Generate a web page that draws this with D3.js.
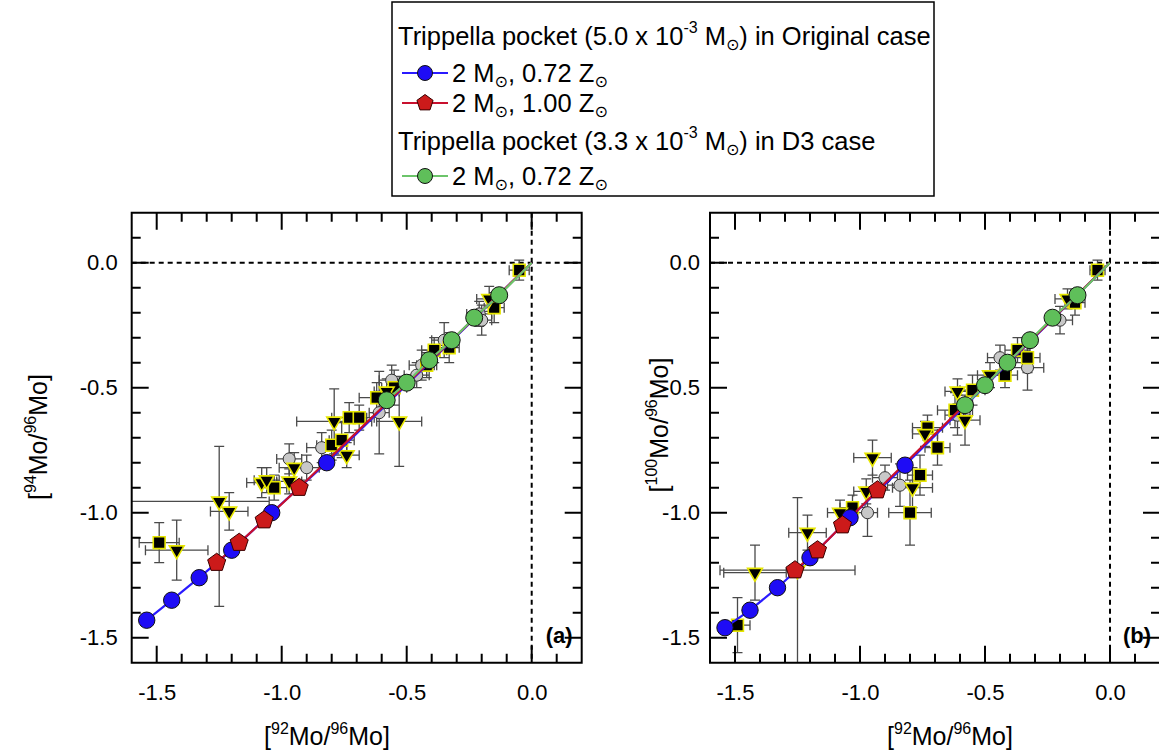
<!DOCTYPE html>
<html>
<head>
<meta charset="utf-8">
<script src="https://cdn.jsdelivr.net/npm/d3@7"></script>
<style>
  body { margin: 0; background: #fff; }
</style>
</head>
<body>
<script>

let width = 1159;
let height = 756;

// axis values
let domain = [-1.6, 0.2];
let majorTicks = [-1.5, -1.0, -0.5, 0.0];
let minorTicks = d3.range(-16, 3).map(d => d / 10);

// model tracks start from the solar composition
let solar = [0, 0];

// panel (a): [92Mo/96Mo] vs [94Mo/96Mo]
let blueA = [[-1.54, -1.43], [-1.44, -1.35], [-1.33, -1.26], [-1.20, -1.15], [-1.04, -1.00], [-0.82, -0.80]];
let redA = [[-1.26, -1.20], [-1.17, -1.12], [-1.07, -1.03], [-0.93, -0.90]];
let greenA = [[-0.58, -0.55], [-0.50, -0.48], [-0.41, -0.39], [-0.32, -0.31], [-0.23, -0.22], [-0.13, -0.13]];

// grains: [type, x, y, ex, ey, exHi, eyHi]  (hi errors only when asymmetric)
let grainsA = [
    ["c", -0.97, -0.785, 0.05, 0.06],
    ["c", -0.90, -0.82, 0.05, 0.05],
    ["c", -0.84, -0.74, 0.06, 0.06],
    ["c", -0.61, -0.60, 0.04, 0.165],
    ["c", -0.56, -0.47, 0.05, 0.06],
    ["c", -0.46, -0.45, 0.05, 0.05],
    ["c", -0.44, -0.41, 0.05, 0.06],
    ["c", -0.35, -0.31, 0.05, 0.07],
    ["c", -0.21, -0.205, 0.05, 0.05],
    ["c", -0.20, -0.23, 0.04, 0.06],
    ["s", -1.49, -1.12, 0.08, 0.08],
    ["s", -1.03, -0.90, 0.05, 0.05],
    ["s", -0.80, -0.73, 0.06, 0.06],
    ["s", -0.76, -0.71, 0.05, 0.07],
    ["s", -0.73, -0.62, 0.07, 0.06],
    ["s", -0.69, -0.62, 0.06, 0.05],
    ["s", -0.62, -0.54, 0.07, 0.06],
    ["s", -0.55, -0.50, 0.05, 0.07],
    ["s", -0.42, -0.41, 0.04, 0.05],
    ["s", -0.39, -0.35, 0.05, 0.05],
    ["s", -0.33, -0.34, 0.04, 0.06],
    ["s", -0.15, -0.18, 0.04, 0.06],
    ["s", -0.05, -0.03, 0.04, 0.04],
    ["t", -1.42, -1.15, 0.125, 0.12],
    ["t", -1.25, -0.955, 0.5, 0.42, 0.2, 0.22],
    ["t", -1.21, -0.995, 0.075, 0.075],
    ["t", -1.08, -0.88, 0.06, 0.06],
    ["t", -1.06, -0.87, 0.05, 0.05],
    ["t", -0.97, -0.875, 0.05, 0.05],
    ["t", -0.95, -0.82, 0.06, 0.06],
    ["t", -0.79, -0.635, 0.15, 0.13],
    ["t", -0.74, -0.77, 0.05, 0.05],
    ["t", -0.58, -0.515, 0.05, 0.05],
    ["t", -0.53, -0.635, 0.09, 0.18],
    ["t", -0.17, -0.145, 0.05, 0.05]
];

// panel (b): [92Mo/96Mo] vs [100Mo/96Mo]
let blueB = [[-1.54, -1.46], [-1.44, -1.39], [-1.33, -1.30], [-1.20, -1.18], [-1.04, -1.02], [-0.82, -0.81]];
let redB = [[-1.26, -1.23], [-1.17, -1.15], [-1.07, -1.05], [-0.93, -0.91]];
let greenB = [[-0.58, -0.57], [-0.50, -0.49], [-0.41, -0.40], [-0.32, -0.31], [-0.23, -0.22], [-0.13, -0.13]];

let grainsB = [
    ["c", -0.97, -1.00, 0.04, 0.095],
    ["c", -0.90, -0.86, 0.05, 0.05],
    ["c", -0.84, -0.89, 0.05, 0.085],
    ["c", -0.61, -0.61, 0.05, 0.08],
    ["c", -0.44, -0.38, 0.05, 0.05],
    ["c", -0.33, -0.42, 0.065, 0.09],
    ["c", -0.20, -0.23, 0.05, 0.055],
    ["s", -1.49, -1.45, 0.05, 0.11],
    ["s", -1.03, -0.98, 0.05, 0.05],
    ["s", -0.80, -1.00, 0.085, 0.13],
    ["s", -0.76, -0.85, 0.05, 0.08],
    ["s", -0.73, -0.66, 0.06, 0.05],
    ["s", -0.69, -0.74, 0.05, 0.07],
    ["s", -0.62, -0.59, 0.07, 0.07],
    ["s", -0.55, -0.51, 0.05, 0.06],
    ["s", -0.42, -0.45, 0.05, 0.05],
    ["s", -0.37, -0.35, 0.05, 0.05],
    ["s", -0.33, -0.38, 0.05, 0.06],
    ["s", -0.14, -0.16, 0.04, 0.05],
    ["s", -0.05, -0.03, 0.03, 0.04],
    ["t", -1.42, -1.24, 0.125, 0.11],
    ["t", -1.25, -1.23, 0.31, 0.5, 0.23, 0.29],
    ["t", -1.21, -1.08, 0.075, 0.07],
    ["t", -1.08, -1.00, 0.05, 0.05],
    ["t", -0.975, -0.915, 0.05, 0.05],
    ["t", -0.95, -0.78, 0.075, 0.07],
    ["t", -0.79, -0.90, 0.08, 0.08],
    ["t", -0.74, -0.685, 0.05, 0.05],
    ["t", -0.61, -0.515, 0.05, 0.05],
    ["t", -0.58, -0.63, 0.06, 0.10],
    ["t", -0.48, -0.45, 0.05, 0.05],
    ["t", -0.17, -0.145, 0.05, 0.04]
];

let colors = {
    blue: "#1e0cf5", blueLine: "#2a1aff",
    red: "#cc1a1a", redLine: "#c8102e",
    green: "#5fbf5a", greenLine: "#6cc46a",
    grainGray: "#c8c8c8", yellow: "#e6e600", err: "#4a4a4a"
};

let svg = d3.select("body").append("svg")
    .attr("width", width)
    .attr("height", height)
    .attr("font-family", "Liberation Sans, Arial, sans-serif");

function pentagon(r) {
    let pts = d3.range(5).map(i => {
        let a = -Math.PI / 2 + i * 2 * Math.PI / 5;
        return [r * Math.cos(a), r * Math.sin(a)];
    });
    return "M" + pts.join("L") + "Z";
}

// text with super/subscripts; dy is put on the tspan that carries the text
function richText(t, parts, small, rise) {
    let cur = 0;
    parts.forEach(part => {
        let target = part.sup ? -rise : part.sub ? 5 : 0;
        let s = t.append("tspan").text(part.t);
        if (target !== cur) s.attr("dy", target - cur);
        if (part.sup || part.sub) s.attr("font-size", small);
        if (part.sub) s.attr("font-family", "DejaVu Sans");
        cur = target;
    });
}

function drawPanel(p) {
    let x = d3.scaleLinear().domain(domain).range([p.left, p.left + 450]);
    let y = d3.scaleLinear().domain(domain).range([662.7, 212.7]);
    let yTop = y.range()[1], yBot = y.range()[0];
    let xL = x.range()[0], xR = x.range()[1];

    let g = svg.append("g");

    // zero reference lines
    g.append("line")
        .attr("x1", xL).attr("x2", xR)
        .attr("y1", y(0)).attr("y2", y(0))
        .attr("stroke", "#000").attr("stroke-width", 2).attr("stroke-dasharray", "5,4");
    g.append("line")
        .attr("x1", x(0)).attr("x2", x(0))
        .attr("y1", yTop).attr("y2", yBot)
        .attr("stroke", "#000").attr("stroke-width", 2).attr("stroke-dasharray", "5,4");

    // error bars, clamped to the plot box
    let cx = v => Math.max(xL, Math.min(xR, x(v)));
    let cy = v => Math.max(yTop, Math.min(yBot, y(v)));
    let cap = 5;
    let eb = g.append("g").attr("stroke", colors.err).attr("stroke-width", 1.3).attr("fill", "none");
    p.grains.forEach(d => {
        let xl = d[1] - d[3], xh = d[1] + (d[5] !== undefined ? d[5] : d[3]);
        let yl = d[2] - d[4], yh = d[2] + (d[6] !== undefined ? d[6] : d[4]);
        let px = x(d[1]), py = y(d[2]);
        let path = "M" + cx(xl) + "," + py + "H" + cx(xh) +
            "M" + px + "," + cy(yl) + "V" + cy(yh);
        if (x(xl) >= xL) path += "M" + x(xl) + "," + (py - cap) + "V" + (py + cap);
        if (x(xh) <= xR) path += "M" + x(xh) + "," + (py - cap) + "V" + (py + cap);
        if (y(yl) <= yBot) path += "M" + (px - cap) + "," + y(yl) + "H" + (px + cap);
        if (y(yh) >= yTop) path += "M" + (px - cap) + "," + y(yh) + "H" + (px + cap);
        eb.append("path").attr("d", path);
    });

    // grain markers
    ["c", "s", "t"].forEach(type => {
        g.selectAll(null)
            .data(p.grains.filter(d => d[0] === type))
            .enter()
            .append("path")
            .attr("transform", d => "translate(" + x(d[1]) + "," + y(d[2]) + ")" + (type === "t" ? " rotate(180)" : ""))
            .attr("d", d3.symbol()
                .type(type === "c" ? d3.symbolCircle : type === "s" ? d3.symbolSquare : d3.symbolTriangle)
                .size(type === "c" ? 115 : type === "s" ? 140 : 95))
            .attr("fill", type === "c" ? colors.grainGray : "#000")
            .attr("stroke", type === "c" ? "#333" : colors.yellow)
            .attr("stroke-width", type === "c" ? 1 : 1.6);
    });

    // model tracks
    let line = d3.line().x(d => x(d[0])).y(d => y(d[1]));
    let models = [
        {data: p.blue, line: colors.blueLine, fill: colors.blue, shape: "circle", r: 8.2},
        {data: p.red, line: colors.redLine, fill: colors.red, shape: "pentagon", r: 9.5},
        {data: p.green, line: colors.greenLine, fill: colors.green, shape: "circle", r: 8.5}
    ];
    models.forEach(m => {
        g.append("path")
            .datum(m.data.concat([solar]))
            .attr("d", line)
            .attr("fill", "none")
            .attr("stroke", m.line)
            .attr("stroke-width", 2.2);
    });
    models.forEach(m => {
        let sel = g.selectAll(null).data(m.data).enter();
        if (m.shape === "circle") {
            sel.append("circle")
                .attr("cx", d => x(d[0])).attr("cy", d => y(d[1])).attr("r", m.r)
                .attr("fill", m.fill).attr("stroke", "#111").attr("stroke-width", 1);
        } else {
            sel.append("path")
                .attr("transform", d => "translate(" + x(d[0]) + "," + y(d[1]) + ")")
                .attr("d", pentagon(m.r))
                .attr("fill", m.fill).attr("stroke", "#3a0000").attr("stroke-width", 1);
        }
    });

    // tick labels
    let fmt = d => d.toFixed(1);
    let xa = svg.append("g").attr("transform", "translate(0," + yBot + ")")
        .call(d3.axisBottom(x).tickValues(majorTicks).tickSize(0).tickPadding(22).tickFormat(fmt));
    let ya = svg.append("g").attr("transform", "translate(" + xL + ",0)")
        .call(d3.axisLeft(y).tickValues(majorTicks).tickSize(0).tickPadding(p.ypad).tickFormat(fmt));
    [xa, ya].forEach(a => {
        a.select(".domain").remove();
        a.selectAll("text").attr("font-size", 22).attr("fill", "#000")
            .attr("font-family", "Liberation Sans, Arial, sans-serif");
    });

    // panel tag
    svg.append("text")
        .attr("x", xL + 441).attr("y", 643)
        .attr("text-anchor", "end")
        .attr("font-size", 22).attr("font-weight", "bold")
        .text(p.tag);

    // axis titles
    let xt = svg.append("text")
        .attr("x", p.xTitleX).attr("y", 745)
        .attr("text-anchor", "middle").attr("font-size", 25);
    richText(xt, [{t: "["}, {t: "92", sup: true}, {t: "Mo/"}, {t: "96", sup: true}, {t: "Mo]"}], 16, 11);

    let yt = svg.append("text")
        .attr("transform", "translate(" + p.yTitleX + "," + p.yTitleY + ") rotate(-90)")
        .attr("text-anchor", "middle").attr("font-size", 25);
    richText(yt, [{t: "["}, {t: p.iso, sup: true}, {t: "Mo/"}, {t: "96", sup: true}, {t: "Mo]"}], 16, 11);

    return {x: x, y: y};
}

let panels = [
    drawPanel({tag: "(a)", left: 131.7, iso: "94", ypad: 14,
        blue: blueA, red: redA, green: greenA, grains: grainsA,
        xTitleX: 327, yTitleX: 47, yTitleY: 437}),
    drawPanel({tag: "(b)", left: 710, iso: "100", ypad: 10,
        blue: blueB, red: redB, green: greenB, grains: grainsB,
        xTitleX: 950, yTitleX: 668, yTitleY: 425})
];

// Legend
let legend = svg.append("g").attr("font-size", 25.5);
legend.append("rect")
    .attr("x", 392).attr("y", 2).attr("width", 542).attr("height", 194)
    .attr("fill", "#fff").attr("stroke", "#000").attr("stroke-width", 1.5);

let headers = [
    {y: 45, mass: "5.0", label: "Original case"},
    {y: 150, mass: "3.3", label: "D3 case"}
];
headers.forEach(h => {
    let t = legend.append("text").attr("x", 398).attr("y", h.y).attr("xml:space", "preserve");
    richText(t, [{t: "Trippella pocket (" + h.mass + " x 10"}, {t: "-3", sup: true},
        {t: " M"}, {t: "\u2299", sub: true}, {t: ") in " + h.label}], 16, 12);
});

let entries = [
    {y: 73, color: colors.blue, line: colors.blueLine, shape: "circle", z: "0.72"},
    {y: 103, color: colors.red, line: colors.redLine, shape: "pentagon", z: "1.00"},
    {y: 176, color: colors.green, line: colors.greenLine, shape: "circle", z: "0.72"}
];
entries.forEach(e => {
    legend.append("line")
        .attr("x1", 402).attr("x2", 448).attr("y1", e.y).attr("y2", e.y)
        .attr("stroke", e.line).attr("stroke-width", 2);
    if (e.shape === "circle") {
        legend.append("circle").attr("cx", 425).attr("cy", e.y).attr("r", 7.5)
            .attr("fill", e.color).attr("stroke", "#111");
    } else {
        legend.append("path").attr("transform", "translate(425," + e.y + ")")
            .attr("d", pentagon(8.5)).attr("fill", e.color).attr("stroke", "#3a0000");
    }
    let t = legend.append("text").attr("x", 452).attr("y", e.y + 9).attr("xml:space", "preserve");
    richText(t, [{t: "2 M"}, {t: "\u2299", sub: true}, {t: ", " + e.z + " Z"}, {t: "\u2299", sub: true}], 16, 12);
});

// frames with inward ticks on all four sides, drawn last as one path each
panels.forEach(pn => {
    let x = pn.x, y = pn.y;
    let left = x.range()[0], right = x.range()[1];
    let bottom = y.range()[0], top = y.range()[1];
    let d = "M" + left + "," + top + "H" + right + "V" + bottom + "H" + left + "Z";
    [[majorTicks, 17], [minorTicks, 9]].forEach(pair => {
        let len = pair[1];
        pair[0].forEach(v => {
            d += "M" + x(v) + "," + bottom + "V" + (bottom - len);
            d += "M" + x(v) + "," + top + "V" + (top + len);
            d += "M" + left + "," + y(v) + "H" + (left + len);
            d += "M" + right + "," + y(v) + "H" + (right - len);
        });
    });
    svg.append("path")
        .attr("d", d)
        .attr("fill", "none")
        .attr("stroke", "#000")
        .attr("stroke-width", 2);
});

</script>
</body>
</html>
